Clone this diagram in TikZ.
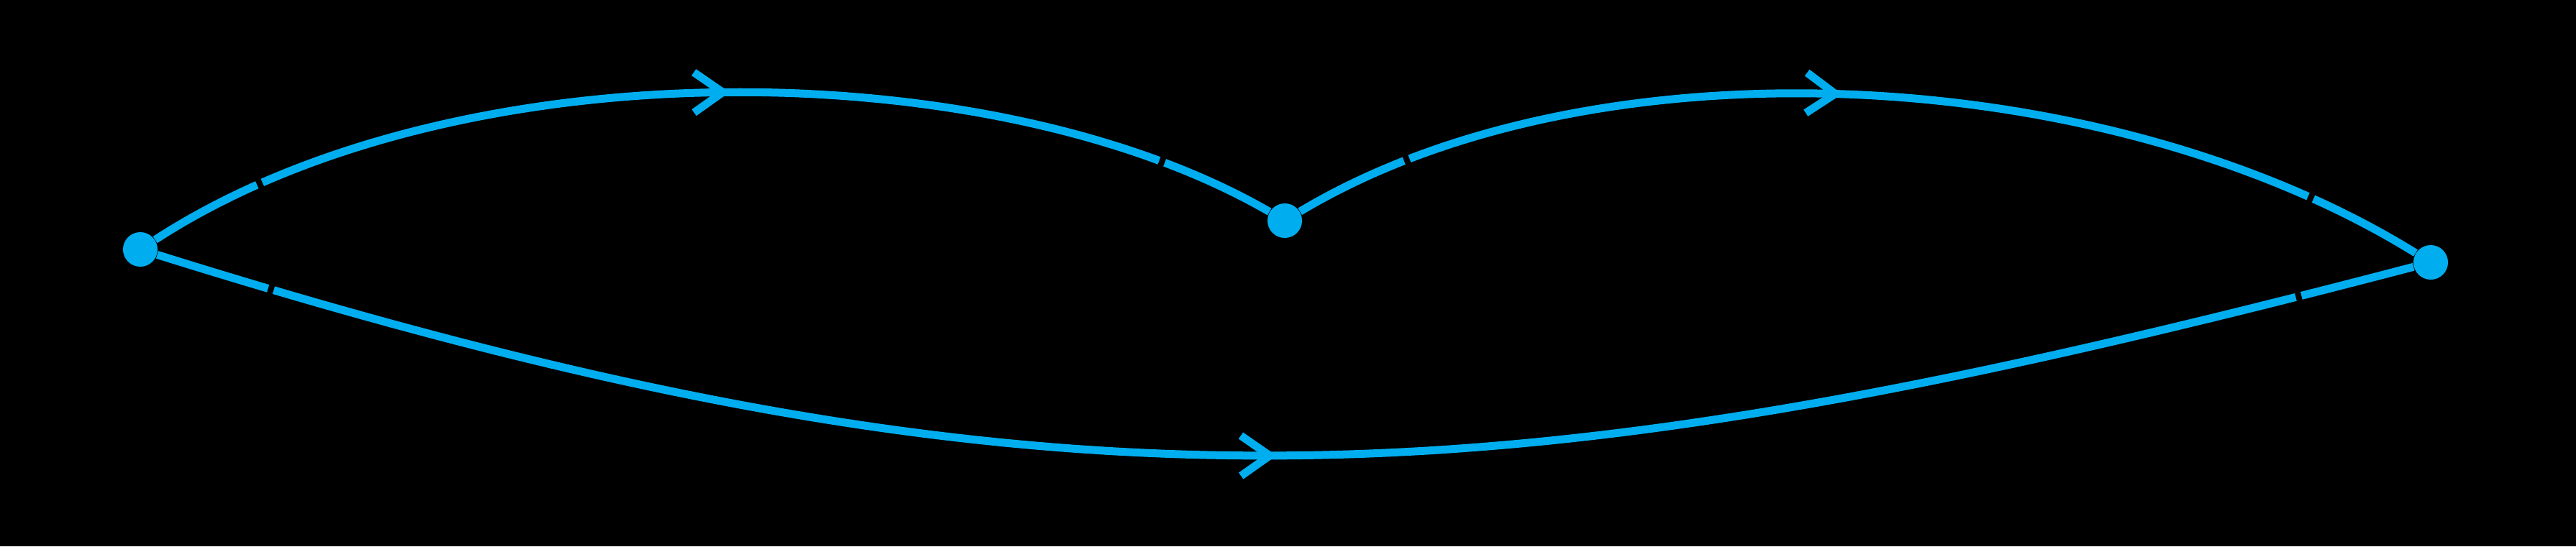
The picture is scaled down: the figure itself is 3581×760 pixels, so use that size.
\documentclass[tikz,border=0pt]{standalone}
\usetikzlibrary{arrows.meta,decorations.markings}

\definecolor{lineblue}{HTML}{00AEEF}

\tikzset{
    dot/.style={circle, fill=lineblue, inner sep=0pt, minimum size=0.48cm},
    prop/.style={color=lineblue, line width=0.11cm, postaction={decorate},
        decoration={markings,
            mark=at position 1.65cm with {\fill[black] (-0.04cm,-0.1cm) rectangle (0.04cm,0.1cm);},
            mark=at position #1 with {\arrow{Straight Barb[length=0.4cm,width=0.56cm]}},
            mark=at position -1.65cm with {\fill[black] (-0.04cm,-0.1cm) rectangle (0.04cm,0.1cm);}}},
    prop/.default=0.5
}

\begin{document}
\begin{tikzpicture}[x=0.01cm, y=-0.01cm]
    \useasboundingbox (0,0) rectangle (3581,760);
    \fill[black] (0,0) rectangle (3581,760);

    \node[dot](A) at (195, 347) {};
    \node[dot](B) at (1786, 307) {};
    \node[dot](C) at (3379, 365) {};

    \draw[prop=0.518] (A) .. controls (635, 61) and (1381, 72) .. (B);
    \draw[prop=0.483] (B) .. controls (2216, 49) and (2929, 86) .. (C);
    \draw[prop=0.497] (A) .. controls (1482, 750) and (2106, 698) .. (C);
\end{tikzpicture}
\end{document}
